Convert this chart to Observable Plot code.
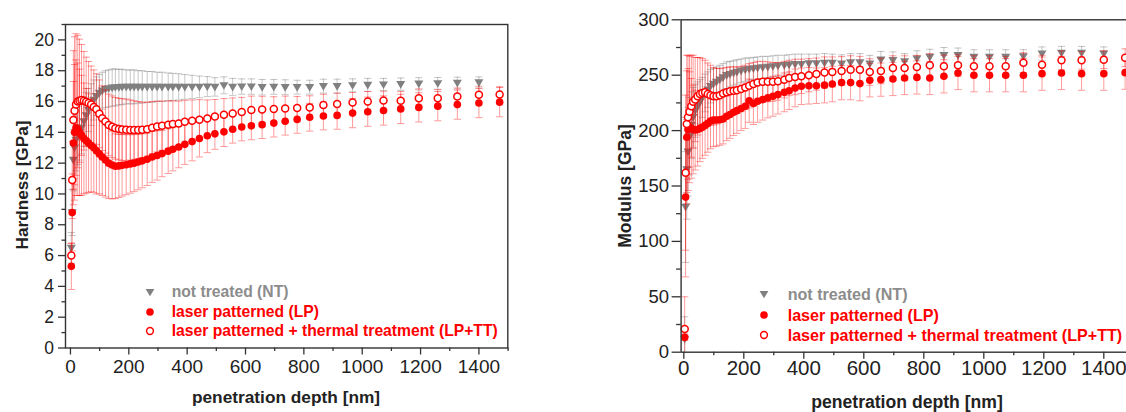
<!DOCTYPE html>
<html>
<head>
<meta charset="utf-8">
<script src="https://cdn.jsdelivr.net/npm/d3@7"></script>
<script src="https://cdn.jsdelivr.net/npm/@observablehq/plot@0.6"></script>
<style>
html, body { margin: 0; padding: 0; background: #fff; overflow: hidden; width: 1126px; height: 412px; }
#root { position: relative; width: 1126px; height: 412px; overflow: hidden; font-family: "Liberation Sans", Arial, sans-serif; }
.panel { position: absolute; top: 0; width: 560px; height: 412px; }
.panel svg { max-width: none !important; width: 560px; height: 412px; }
.title { position: absolute; font-weight: bold; color: #222; white-space: nowrap; line-height: 1; }
.ytitle { transform: translate(-50%, -50%) rotate(-90deg); }
.xtitle { transform: translate(-50%, -50%); }
.lgtext { position: absolute; font-weight: bold; white-space: nowrap; transform: translateY(-50%); line-height: 1; }
.lgicon { position: absolute; }
</style>
</head>
<body>
<div id="root"></div>
<script>
// ---------------- data ----------------
const depth = [3, 6, 10, 14, 19, 25, 31, 38, 46, 54,
  62, 71, 80, 89, 99, 109, 120, 131, 143, 154,
  166, 177, 191, 205, 218, 232, 246, 263, 280, 297,
  314, 335, 351, 371, 392, 417, 442, 469, 495, 526,
  556, 587, 620, 657, 697, 736, 777, 820, 867, 914,
  967, 1019, 1073, 1132, 1194, 1259, 1326, 1400, 1471];

// Hardness [GPa]
const hardNT = [6.5, 8.8, 12.2, 13.0, 13.5, 13.8, 14.0, 14.3, 14.7, 15.1,
  15.45, 15.8, 16.1, 16.35, 16.55, 16.7, 16.8, 16.85, 16.9, 16.92,
  16.93, 16.95, 16.95, 16.95, 16.95, 16.95, 16.95, 16.95, 16.95, 16.95,
  16.95, 16.95, 16.95, 16.95, 16.95, 16.95, 16.95, 16.97, 16.95, 17.05,
  16.95, 16.97, 16.97, 16.93, 16.95, 16.93, 16.93, 16.93, 17.0, 17.0,
  17.05, 17.08, 17.1, 17.13, 17.15, 17.18, 17.2, 17.24, null];
const hardNTerr = [1.0, 1.5, 2.0, 2.0, 2.0, 1.9, 1.8, 1.7, 1.6, 1.5,
  1.4, 1.35, 1.3, 1.25, 1.2, 1.2, 1.2, 1.2, 1.2, 1.2,
  1.15, 1.15, 1.1, 1.1, 1.1, 1.05, 1.05, 1.0, 1.0, 0.95,
  0.95, 0.9, 0.88, 0.85, 0.8, 0.75, 0.7, 0.65, 0.6, 0.55,
  0.55, 0.5, 0.5, 0.5, 0.48, 0.48, 0.45, 0.45, 0.45, 0.45,
  0.42, 0.42, 0.4, 0.4, 0.4, 0.38, 0.38, 0.36, null];
const hardLP = [5.3, 8.8, 13.3, 14.0, 14.3, 14.2, 14.0, 13.8, 13.6, 13.45,
  13.3, 13.15, 13.0, 12.8, 12.6, 12.4, 12.2, 12.0, 11.88, 11.8,
  11.82, 11.86, 11.9, 11.95, 12.0, 12.07, 12.15, 12.25, 12.4, 12.5,
  12.62, 12.78, 12.9, 13.05, 13.22, 13.4, 13.6, 13.78, 13.9, 14.03,
  14.2, 14.35, 14.42, 14.5, 14.6, 14.72, 14.84, 14.98, 15.06, 15.1,
  15.25, 15.34, 15.42, 15.52, 15.62, 15.7, 15.8, 15.9, 15.96];
const hardLPerr = [1.5, 2.5, 4.0, 4.4, 4.4, 4.3, 4.1, 3.9, 3.6, 3.4,
  3.2, 3.0, 2.9, 2.8, 2.6, 2.5, 2.4, 2.3, 2.2, 2.1,
  2.05, 2.0, 1.95, 1.9, 1.85, 1.8, 1.75, 1.7, 1.65, 1.6,
  1.5, 1.45, 1.4, 1.35, 1.3, 1.25, 1.2, 1.1, 1.0, 0.95,
  0.9, 0.9, 0.9, 0.9, 0.9, 0.9, 0.9, 0.9, 0.9, 0.9,
  0.95, 0.95, 0.95, 0.95, 0.95, 0.95, 0.95, 0.95, 0.95];
const hardTT = [6.0, 10.9, 14.8, 15.4, 15.8, 16.0, 16.05, 16.1, 16.05, 15.98,
  15.9, 15.8, 15.65, 15.5, 15.2, 14.92, 14.7, 14.48, 14.36, 14.26,
  14.21, 14.18, 14.16, 14.15, 14.15, 14.15, 14.16, 14.2, 14.3, 14.38,
  14.43, 14.49, 14.54, 14.58, 14.68, 14.75, 14.82, 14.9, 15.03, 15.14,
  15.23, 15.32, 15.45, 15.49, 15.51, 15.55, 15.58, 15.62, 15.77, 15.84,
  15.94, 16.0, 16.07, 16.05, 16.22, 16.22, 16.33, 16.44, 16.46];
const hardTTerr = [0.8, 2.5, 4.5, 4.8, 4.6, 4.3, 4.0, 3.6, 3.2, 2.9,
  2.7, 2.5, 2.4, 2.3, 2.2, 2.1, 2.05, 2.0, 2.0, 2.0,
  2.0, 2.0, 2.0, 1.95, 1.9, 1.85, 1.8, 1.75, 1.7, 1.65,
  1.6, 1.55, 1.5, 1.45, 1.4, 1.35, 1.3, 1.2, 1.1, 1.05,
  1.0, 0.95, 0.9, 0.85, 0.8, 0.8, 0.75, 0.75, 0.7, 0.7,
  0.65, 0.65, 0.6, 0.6, 0.6, 0.55, 0.55, 0.55, 0.5];

// Modulus [GPa]
const modNT = [12, 131, 165, 181, 195, 205, 212, 218, 222, 226,
  230, 234, 237, 240, 242, 244, 246, 248, 250, 251,
  252, 253, 254, 255, 255.5, 256, 256.5, 257, 257.5, 258,
  258.5, 259, 259.5, 260, 260, 260.5, 260.5, 261, 261, 260.4,
  261.5, 261.5, 260.4, 264, 263.5, 262.5, 265, 266.4, 268, 268,
  266.4, 266.4, 266.4, 267, 269.5, 270, 270, 269.5, null];
const modNTerr = [20, 50, 45, 40, 35, 30, 27, 24, 22, 20,
  18, 17, 16, 15, 14, 13.5, 13, 12.5, 12, 11.5,
  11, 11, 10.5, 10.5, 10, 10, 10, 10, 9.5, 9.5,
  9.5, 9, 9, 9, 9, 8.5, 8.5, 8.5, 8, 8,
  8, 8, 7.5, 7.5, 7.5, 7, 7, 7, 7, 6.5,
  6.5, 6.5, 6.5, 6, 6, 6, 6, 6, null];
const modLP = [13.5, 140, 194, 201, 203, 202, 201, 200.5, 201, 202,
  203, 204.7, 206.5, 208.6, 209.5, 209.5, 209.8, 210.5, 212.9, 214.5,
  216.5, 218, 220, 222, 227, 224.5, 226.5, 228, 229.5, 231,
  232.5, 234.5, 236, 238.5, 240, 240.5, 240.5, 241, 242, 243.3,
  243.3, 242.4, 245.4, 246, 246.6, 247.5, 248, 247.5, 249, 252,
  250, 250, 250, 250, 251.4, 252, 251.4, 251.4, 252.3];
const modLPerr = [3, 72, 60, 55, 50, 45, 40, 36, 33, 30,
  28, 27, 26, 25, 24, 23.5, 23, 22.5, 22, 21.5,
  21, 20.5, 20, 20, 19.5, 19, 19, 18.5, 18, 18,
  17.5, 17.5, 17, 17, 16.5, 16.5, 16, 16, 16, 15.5,
  15.5, 15.5, 15, 15, 15, 15, 15, 15, 15, 15,
  15, 15, 15, 15, 15, 15, 15, 15, 15];
const modTT = [21, 162, 206, 212, 217, 222, 226, 228, 231, 233,
  234, 234.5, 233, 232, 231, 231, 232, 233.5, 234.5, 235.5,
  236, 236.5, 237.5, 239, 240.5, 242, 243.5, 244, 244, 244,
  244.5, 246, 247.5, 248.4, 249, 250, 251, 252.5, 253, 253.8,
  255, 255, 252.9, 253.8, 256.5, 256.5, 257.4, 258.9, 258, 258.9,
  258, 258, 258, 261.3, 259.5, 263.4, 263.4, 264, 265.8];
const modTTerr = [29, 70, 62, 56, 50, 46, 42, 38, 35, 33,
  31, 29, 28, 27, 26, 25, 24, 23, 22.5, 22,
  21.5, 21, 20.5, 20, 20, 19.5, 19, 18.5, 18, 17.5,
  17, 16.5, 16, 16, 15.5, 15, 14.5, 14, 13.5, 13,
  12.5, 12, 12, 11.5, 11, 11, 10.5, 10.5, 10, 10,
  9.5, 9.5, 9, 9, 8.5, 8.5, 8, 8, 8];

const xTicks = [0, 200, 400, 600, 800, 1000, 1200, 1400];
const xMinor = [100, 300, 500, 700, 900, 1100, 1300, 1500];
const hardTicks = [0, 2, 4, 6, 8, 10, 12, 14, 16, 18, 20];
const hardMinor = [1, 3, 5, 7, 9, 11, 13, 15, 17, 19, 21];
const modTicks = [0, 50, 100, 150, 200, 250, 300];
const modMinor = [25, 75, 125, 175, 225, 275];

const seriesNames = ["not treated (NT)", "laser patterned (LP)", "laser patterned + thermal treatment (LP+TT)"];
const xTitle = "penetration depth [nm]";

// ---------------- helpers ----------------
const RED = "#ff0000";
const GRAY = "#808080";
const plain = d => String(d);

const capSym = { draw(ctx, size) { const r = Math.sqrt(size / Math.PI); ctx.moveTo(-r, 0); ctx.lineTo(r, 0); } };
const triDown = { draw(ctx, size) { const r = Math.sqrt(size / Math.PI); ctx.moveTo(-r * 1.1, -r * 0.78); ctx.lineTo(r * 1.1, -r * 0.78); ctx.lineTo(0, r * 1.1); ctx.closePath(); } };

function table(vals, errs) {
  return depth.map((d, i) => ({ d, v: vals[i], e: errs[i] })).filter(o => o.v != null);
}

function errMarks(data, color, opacity) {
  return [
    Plot.ruleX(data, { x: "d", y1: o => o.v - o.e, y2: o => o.v + o.e, stroke: color, strokeOpacity: opacity, strokeWidth: 1, clip: true }),
    Plot.dot(data, { x: "d", y: o => o.v + o.e, symbol: capSym, r: 3.6, stroke: color, strokeOpacity: opacity, strokeWidth: 1, fill: "none", clip: true }),
    Plot.dot(data, { x: "d", y: o => o.v - o.e, symbol: capSym, r: 3.6, stroke: color, strokeOpacity: opacity, strokeWidth: 1, fill: "none", clip: true })
  ];
}

function makePanel(cfg) {
  const nt = table(cfg.nt, cfg.ntErr), lp = table(cfg.lp, cfg.lpErr), tt = table(cfg.tt, cfg.ttErr);
  return Plot.plot({
    width: cfg.width, height: 412,
    marginLeft: cfg.ml, marginRight: cfg.mr, marginTop: cfg.mt, marginBottom: cfg.mb,
    x: { domain: cfg.xDomain },
    y: { domain: cfg.yDomain },
    style: { fontFamily: "'Liberation Sans', Arial, sans-serif", fontSize: cfg.fsy + "px", color: "#222", background: "transparent", overflow: "visible" },
    marks: [
      ...errMarks(nt, GRAY, 0.45),
      Plot.dot(nt, { x: "d", y: "v", symbol: triDown, r: 4.1, fill: GRAY, stroke: "none" }),
      ...errMarks(lp, RED, 0.4),
      Plot.dot(lp, { x: "d", y: "v", r: 3.8, fill: RED, stroke: "none" }),
      ...errMarks(tt, RED, 0.4),
      Plot.dot(tt, { x: "d", y: "v", r: 3.5, fill: "white", stroke: RED, strokeWidth: 1.5 }),
      Plot.frame({ stroke: "#333", strokeWidth: 1.4 }),
      Plot.axisX(xTicks, { tickSize: cfg.tsx, tickPadding: cfg.tpx, tickFormat: plain, fontSize: cfg.fsx, label: null, stroke: "#333", strokeWidth: 1.3 }),
      Plot.axisX(xMinor, { tickSize: cfg.tsx / 2, tickFormat: () => "", label: null, stroke: "#333", strokeWidth: 1.3 }),
      Plot.axisY(cfg.yTicks, { tickSize: cfg.tsy, tickPadding: cfg.tpy, tickFormat: plain, fontSize: cfg.fsy, label: null, stroke: "#333", strokeWidth: 1.3 }),
      Plot.axisY(cfg.yMinor, { tickSize: cfg.tsy / 2, tickFormat: () => "", label: null, stroke: "#333", strokeWidth: 1.3 })
    ]
  });
}

function addPanel(root, left, svg) {
  const div = document.createElement("div");
  div.className = "panel";
  div.style.left = left + "px";
  svg.style.maxWidth = "none";
  svg.style.width = "560px";
  svg.style.height = "412px";
  div.appendChild(svg);
  root.appendChild(div);
}

function addTitle(root, text, x, y, fs, rotated) {
  const t = document.createElement("div");
  t.className = "title " + (rotated ? "ytitle" : "xtitle");
  t.textContent = text;
  t.style.left = x + "px";
  t.style.top = y + "px";
  t.style.fontSize = fs + "px";
  root.appendChild(t);
}

function iconSvg(kind) {
  const ns = "http://www.w3.org/2000/svg";
  const s = document.createElementNS(ns, "svg");
  s.setAttribute("width", 14); s.setAttribute("height", 14);
  s.setAttribute("viewBox", "-7 -7 14 14");
  let el;
  if (kind === 0) {
    el = document.createElementNS(ns, "path");
    el.setAttribute("d", "M-4.4,-3.1L4.4,-3.1L0,4.3Z");
    el.setAttribute("fill", GRAY);
  } else if (kind === 1) {
    el = document.createElementNS(ns, "circle");
    el.setAttribute("r", 3.8); el.setAttribute("fill", RED);
  } else {
    el = document.createElementNS(ns, "circle");
    el.setAttribute("r", 3.4); el.setAttribute("fill", "white");
    el.setAttribute("stroke", RED); el.setAttribute("stroke-width", 1.5);
  }
  s.appendChild(el);
  return s;
}

function addLegend(root, mx, tx, rows, fs) {
  const colors = ["#8c8c8c", RED, RED];
  seriesNames.forEach((name, i) => {
    const ic = iconSvg(i);
    ic.classList.add("lgicon");
    ic.style.left = (mx - 7) + "px";
    ic.style.top = (rows[i] - 7) + "px";
    root.appendChild(ic);
    const t = document.createElement("div");
    t.className = "lgtext";
    t.textContent = name;
    t.style.left = tx + "px";
    t.style.top = rows[i] + "px";
    t.style.fontSize = fs + "px";
    t.style.color = colors[i];
    root.appendChild(t);
  });
}

// ---------------- build ----------------
const root = document.getElementById("root");

const left = makePanel({
  width: 560, ml: 65, mr: 52.7, mt: 24, mb: 64.5,
  xDomain: [-17, 1499], yDomain: [0, 21],
  yTicks: hardTicks, yMinor: hardMinor,
  nt: hardNT, ntErr: hardNTerr, lp: hardLP, lpErr: hardLPerr, tt: hardTT, ttErr: hardTTerr,
  fsy: 17.5, fsx: 19, tsx: 7, tpx: 4, tsy: 7, tpy: 4.5
});
addPanel(root, 0, left);

const right = makePanel({
  width: 560, ml: 80.6, mr: 26.7, mt: 19.3, mb: 60.3,
  xDomain: [-9, 1500], yDomain: [0, 300],
  yTicks: modTicks, yMinor: modMinor,
  nt: modNT, ntErr: modNTerr, lp: modLP, lpErr: modLPerr, tt: modTT, ttErr: modTTerr,
  fsy: 18.5, fsx: 20.5, tsx: 7, tpx: 1, tsy: 9, tpy: 3
});
addPanel(root, 600, right);

addTitle(root, "Hardness [GPa]", 22.5, 185, 17.2, true);
addTitle(root, xTitle, 286, 398, 17.3, false);
addTitle(root, "Modulus [GPa]", 626, 185.5, 17.5, true);
addTitle(root, xTitle, 907, 403, 17.6, false);

addLegend(root, 150, 171.7, [291.7, 311.7, 331], 15.7);
addLegend(root, 764, 787.7, [294.3, 315, 335], 16.1);
</script>
</body>
</html>
